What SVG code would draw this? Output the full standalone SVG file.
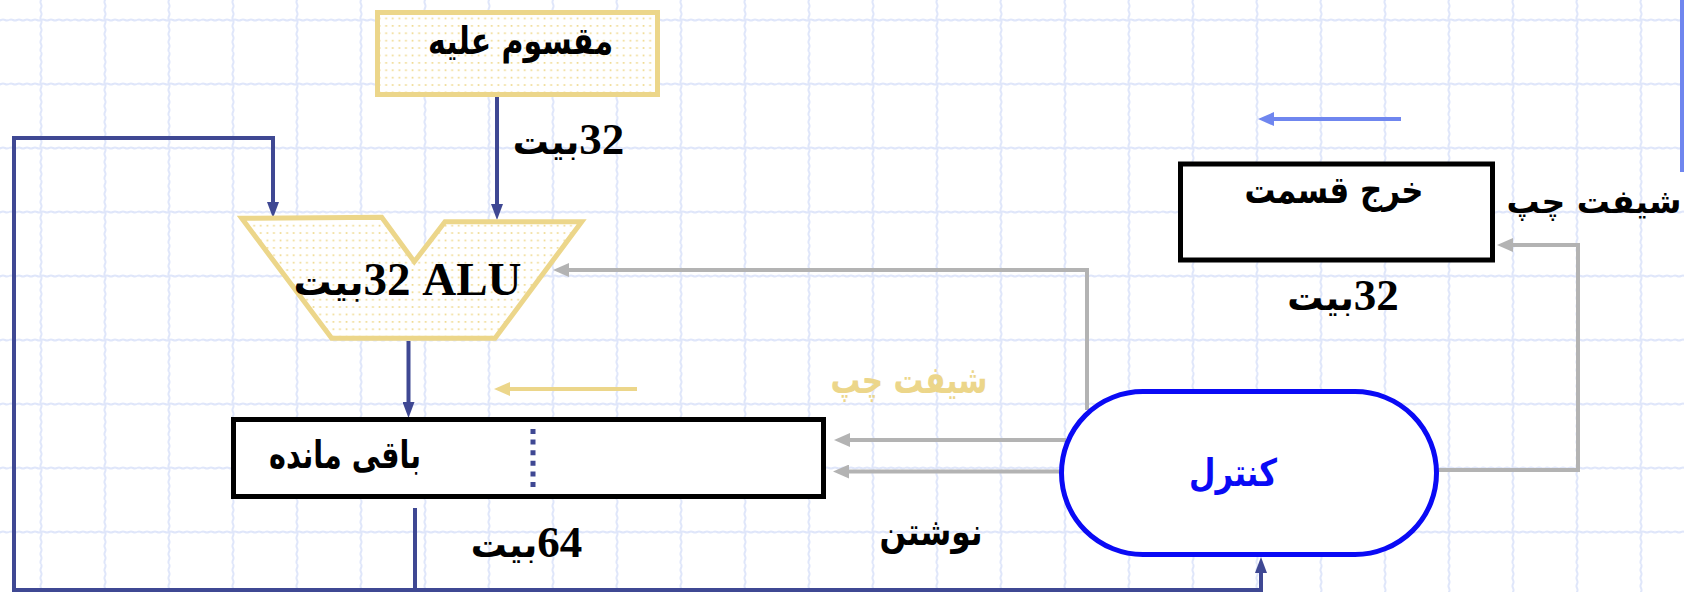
<svg xmlns="http://www.w3.org/2000/svg" width="1684" height="592" viewBox="0 0 1684 592">
<defs>
<style>
.bg{fill:#ffffff}
.gridline{fill:none;stroke:#dfe6fa;stroke-width:2}
.gold{fill:url(#dots);stroke:#ecd68a;stroke-width:5;stroke-linejoin:miter}
.blk{fill:#ffffff;stroke:#000000;stroke-width:5}
.ctl{fill:#ffffff;stroke:#0a0af5;stroke-width:5}
.navy{fill:none;stroke:#3f4893;stroke-width:4;stroke-linejoin:miter}
.grey{fill:none;stroke:#b3b3b3;stroke-width:4;stroke-linejoin:miter}
.yel{fill:none;stroke:#ecd68a;stroke-width:4}
.blu{fill:none;stroke:#6f86ef;stroke-width:4}
.lbl{font-family:"Liberation Serif","DejaVu Sans",serif;font-weight:bold;fill:#000000;direction:rtl;unicode-bidi:embed}
.lbl .a{font-family:"DejaVu Sans",sans-serif}
.ar{font-family:"DejaVu Sans",sans-serif;font-weight:bold;fill:#000000;font-size:38px}
</style>
<pattern id="grid" x="9" y="-12" width="64" height="64" patternUnits="userSpaceOnUse">
<path class="gridline" d="M0,32 q2,-1.1 4,0 t4,0 t4,0 t4,0 t4,0 t4,0 t4,0 t4,0 t4,0 t4,0 t4,0 t4,0 t4,0 t4,0 t4,0 t4,0"/>
<path class="gridline" d="M32,0 q1.1,2 0,4 t0,4 t0,4 t0,4 t0,4 t0,4 t0,4 t0,4 t0,4 t0,4 t0,4 t0,4 t0,4 t0,4 t0,4 t0,4"/>
</pattern>
<pattern id="dots" x="0" y="0" width="6.6" height="7.4" patternUnits="userSpaceOnUse">
<rect width="6.6" height="7.4" fill="#ffffff"/>
<rect x="2.5" y="2.8" width="1.7" height="1.7" fill="#f0da90"/>
</pattern>
<marker id="aNavy" viewBox="0 0 16 12" refX="8" refY="6" markerWidth="16" markerHeight="12" orient="auto" markerUnits="userSpaceOnUse"><path d="M0,0 L16,6 L0,12 z" fill="#3f4893"/></marker>
<marker id="aGrey" viewBox="0 0 16 14" refX="8" refY="7" markerWidth="16" markerHeight="14" orient="auto" markerUnits="userSpaceOnUse"><path d="M0,0 L16,7 L0,14 z" fill="#b3b3b3"/></marker>
<marker id="aYel" viewBox="0 0 16 14" refX="8" refY="7" markerWidth="16" markerHeight="14" orient="auto" markerUnits="userSpaceOnUse"><path d="M0,0 L16,7 L0,14 z" fill="#ecd68a"/></marker>
<marker id="aBlu" viewBox="0 0 16 14" refX="8" refY="7" markerWidth="16" markerHeight="14" orient="auto" markerUnits="userSpaceOnUse"><path d="M0,0 L16,7 L0,14 z" fill="#6f86ef"/></marker>
</defs>
<rect class="bg" x="0" y="0" width="1684" height="592"/>
<rect x="0" y="0" width="1684" height="592" fill="url(#grid)"/>

<g id="connectors">
<path class="navy" d="M497,97 V212" marker-end="url(#aNavy)"/>
<path class="navy" d="M408.5,341 V410" marker-end="url(#aNavy)"/>
<path class="navy" d="M415,508 V590 H14 V138 H273 V210" marker-end="url(#aNavy)"/>
<path class="navy" d="M415,590 H1261 V565" marker-end="url(#aNavy)"/>
<path class="grey" d="M1087,410 V270 H561" marker-end="url(#aGrey)"/>
<path class="grey" d="M1066,440 H842" marker-end="url(#aGrey)"/>
<path class="grey" d="M1060,471.5 H841" marker-end="url(#aGrey)"/>
<path class="grey" d="M1438,470 H1578 V245 H1505" marker-end="url(#aGrey)"/>
</g>

<g id="decor">
<path class="yel" d="M637,389 H502" marker-end="url(#aYel)"/>
<path class="blu" d="M1401,119 H1266" marker-end="url(#aBlu)"/>
<path class="blu" d="M1682,0 V172"/>
<text class="ar" x="909" y="393" text-anchor="middle" textLength="157" lengthAdjust="spacingAndGlyphs" style="fill:#ecd68a">شیفت چپ</text>
<text class="ar" x="1594" y="213" text-anchor="middle" style="font-size:33px">شیفت چپ</text>
<text class="ar" x="931" y="545" text-anchor="middle" textLength="103" lengthAdjust="spacingAndGlyphs">نوشتن</text>
<text class="lbl" x="568.5" y="154" font-size="45" text-anchor="middle"><tspan>32</tspan><tspan class="a" font-size="36">بیت</tspan></text>
<text class="lbl" x="526.5" y="557" font-size="45" text-anchor="middle"><tspan>64</tspan><tspan class="a" font-size="36">بیت</tspan></text>
<text class="lbl" x="1343" y="310" font-size="45" text-anchor="middle"><tspan>32</tspan><tspan class="a" font-size="36">بیت</tspan></text>
</g>

<g id="node-divisor">
<rect class="gold" x="377.5" y="12.5" width="280" height="82"/>
<text class="ar" x="520.5" y="54" text-anchor="middle" textLength="185" lengthAdjust="spacingAndGlyphs">مقسوم علیه</text>
</g>

<g id="node-alu">
<polygon class="gold" points="241.7,218.3 381.7,217.3 414.3,261.7 445,221.7 581.7,221.7 495,338.3 331.7,338.3"/>
<text class="lbl" x="407.5" y="295" font-size="47" text-anchor="middle"><tspan>ALU&#x200F; 32</tspan><tspan class="a" font-size="38">بیت</tspan></text>
</g>

<g id="node-remainder">
<rect class="blk" x="233.5" y="419.5" width="590" height="77"/>
<text class="ar" x="345" y="468" text-anchor="middle" textLength="152" lengthAdjust="spacingAndGlyphs">باقی مانده</text>
<line x1="533" y1="429" x2="533" y2="490" stroke="#3f4893" stroke-width="5" stroke-dasharray="5 5.6"/>
</g>

<g id="node-quotient">
<rect class="blk" x="1180.5" y="164" width="312" height="96"/>
<text class="ar" x="1334" y="203" text-anchor="middle" textLength="179" lengthAdjust="spacingAndGlyphs">خرج قسمت</text>
</g>

<g id="node-control">
<rect class="ctl" x="1061.5" y="391.5" width="375" height="163" rx="81.5" ry="81.5"/>
<text class="ar" x="1233" y="486" text-anchor="middle" textLength="88" lengthAdjust="spacingAndGlyphs" style="fill:#0a0af5">کنترل</text>
</g>
</svg>
